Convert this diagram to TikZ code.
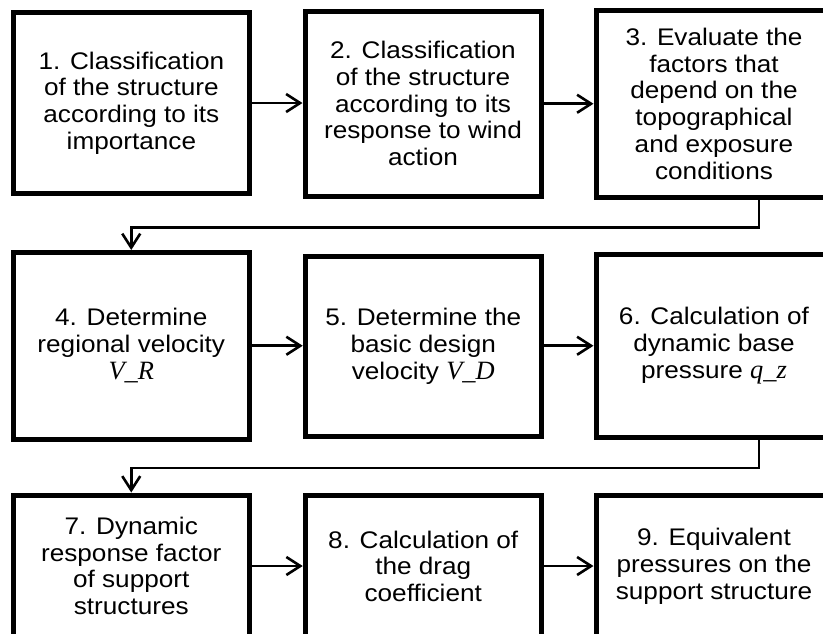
\documentclass[tikz,border=0pt]{standalone}
\usepackage{fontspec}
\setmainfont{Liberation Sans}[FakeStretch=1.09]
\newfontfamily\varfont{Liberation Serif}[Scale=1.1]
\usetikzlibrary{arrows.meta}
\newcommand{\vsym}[1]{{\varfont\itshape #1}}
\begin{document}
\begin{tikzpicture}[x=1pt,y=-1pt,
  stepbox/.style={draw, line width=5pt, minimum width=236pt, align=center, inner sep=0pt,
    font=\fontsize{24}{26.8}\selectfont},
  conn/.style={line width=2.6pt, -{Straight Barb[length=14pt,width=18pt]}}]
\useasboundingbox (0,0) rectangle (823,633);
% row 1
\node[stepbox, minimum height=181pt] (b1) at (131.4,103) {1. Classification\\of the structure\\according to its\\importance};
\node[stepbox, minimum height=185pt] (b2) at (423,103.5) {2. Classification\\of the structure\\according to its\\response to wind\\action};
\node[stepbox, minimum height=187.5pt] (b3) at (714,103.75) {3. Evaluate the\\factors that\\depend on the\\topographical\\and exposure\\conditions};
% row 2
\node[stepbox, minimum height=186.5pt] (b4) at (131.25,345.75) {4. Determine\\regional velocity\\\vsym{V\_R}};
\node[stepbox, minimum height=180.7pt] (b5) at (423.25,346.35) {5. Determine the\\basic design\\velocity \vsym{V\_D}};
\node[stepbox, minimum height=183.5pt] (b6) at (714,345.75) {6. Calculation of\\dynamic base\\pressure \vsym{q\_z}};
% row 3
\node[stepbox, minimum height=142pt] (b7) at (131.25,566) {7. Dynamic\\response factor\\of support\\structures};
\node[stepbox, minimum height=141.5pt] (b8) at (423.25,566.25) {8. Calculation of\\the drag\\coefficient};
\node[stepbox, minimum height=142pt] (b9) at (714,566) {9. Equivalent\\pressures on the\\support structure};
% horizontal arrows
\draw[conn] (b1.east) -- (b1.east -| b2.west);
\draw[conn] (b2.east |- b3.west) -- (b3.west);
\draw[conn] (b4.east) -- (b4.east -| b5.west);
\draw[conn] (b5.east |- b6.west) -- (b6.west);
\draw[conn] (b7.east) -- (b7.east -| b8.west);
\draw[conn] (b8.east |- b9.west) -- (b9.west);
% return connectors
\coordinate (t1) at (759,227.5);
\coordinate (t2) at (759,468);
\draw[conn] (b3.south -| t1) -- (t1) -| (b4.north);
\draw[conn] (b6.south -| t2) -- (t2) -| (b7.north);
\end{tikzpicture}
\end{document}
